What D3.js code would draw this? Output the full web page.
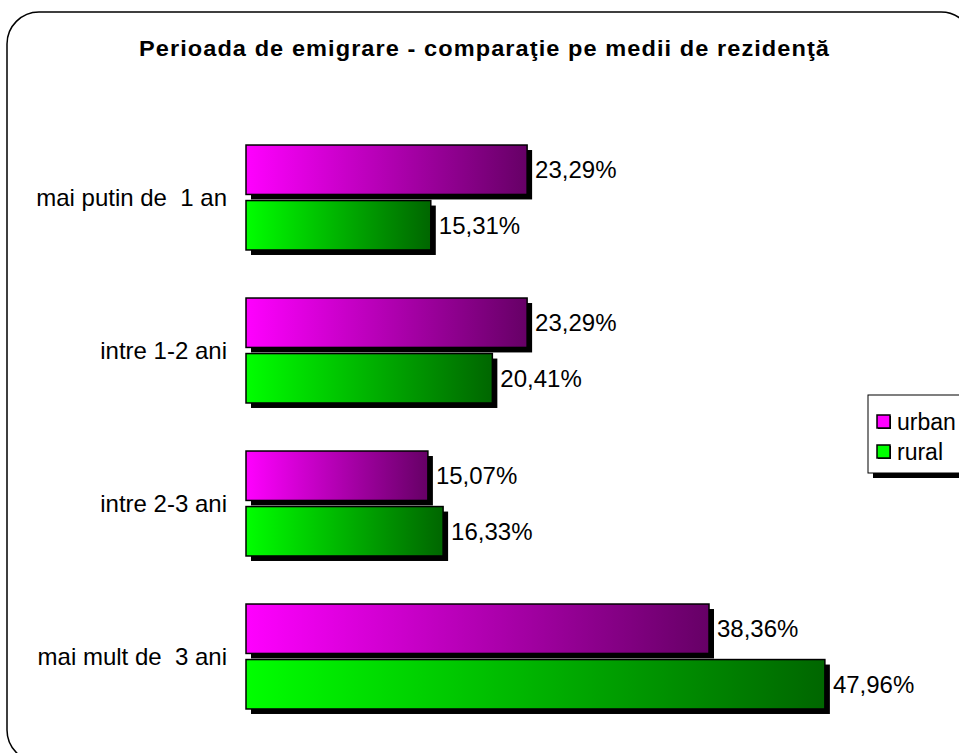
<!DOCTYPE html>
<html>
<head>
<meta charset="utf-8">
<script src="https://cdn.jsdelivr.net/npm/d3@7"></script>
<style>
  html, body { margin: 0; padding: 0; background: #fff; overflow: hidden; }
  svg { display: block; font-family: "Liberation Sans", Arial, sans-serif; }
  text { white-space: pre; }
</style>
</head>
<body>
<svg width="959" height="753"></svg>
<script>
var categories = ['mai putin de  1 an', 'intre 1-2 ani', 'intre 2-3 ani', 'mai mult de  3 ani'];
var seriesNames = ['urban', 'rural'];
var urban = [23.29, 23.29, 15.07, 38.36];
var rural = [15.31, 20.41, 16.33, 47.96];
var title = 'Perioada de emigrare - comparaţie pe medii de rezidenţă';

var colors = {
    urban: ['#ff00ff', '#660066'],
    rural: ['#00ff00', '#006600']
};

var svg = d3.select('svg');
var defs = svg.append('defs');

seriesNames.forEach(function (s) {
    var g = defs.append('linearGradient')
        .attr('id', 'grad-' + s)
        .attr('x1', 0).attr('x2', 1).attr('y1', 0).attr('y2', 0);
    g.append('stop').attr('offset', '0%').attr('stop-color', colors[s][0]);
    g.append('stop').attr('offset', '100%').attr('stop-color', colors[s][1]);
});

// outer rounded frame
svg.append('rect')
    .attr('x', 7).attr('y', 12)
    .attr('width', 966).attr('height', 750)
    .attr('rx', 32).attr('ry', 32)
    .attr('fill', '#fff')
    .attr('stroke', '#000')
    .attr('stroke-width', 1.5);

svg.append('text')
    .attr('x', 139).attr('y', 56)
    .attr('font-size', 22)
    .attr('font-weight', 'bold')
    .attr('letter-spacing', 1)
    .attr('textLength', 691)
    .attr('lengthAdjust', 'spacingAndGlyphs')
    .text(title);

var data = categories.map(function (c, i) {
    return { cat: c, urban: urban[i], rural: rural[i] };
});

var x = d3.scaleLinear().domain([0, 10]).range([246, 246 + 120.7]);
var y = d3.scaleBand().domain(categories).range([121, 733]).paddingInner(0.314).paddingOuter(0.157);
var ySub = d3.scaleBand().domain(seriesNames).range([0, y.bandwidth()]).paddingInner(0.11);

var groups = svg.selectAll('g.cat')
    .data(data)
    .enter().append('g')
    .attr('class', 'cat')
    .attr('transform', function (d) { return 'translate(0,' + y(d.cat) + ')'; });

groups.append('text')
    .attr('x', 227)
    .attr('y', y.bandwidth() / 2)
    .attr('dy', '0.35em')
    .attr('text-anchor', 'end')
    .attr('font-size', 24)
    .text(function (d) { return d.cat; });

seriesNames.forEach(function (s) {
    groups.append('rect')
        .attr('x', x(0) + 5)
        .attr('y', ySub(s) + 5)
        .attr('width', function (d) { return x(d[s]) - x(0); })
        .attr('height', ySub.bandwidth())
        .attr('fill', '#000');
    groups.append('rect')
        .attr('x', x(0))
        .attr('y', ySub(s))
        .attr('width', function (d) { return x(d[s]) - x(0); })
        .attr('height', ySub.bandwidth())
        .attr('fill', 'url(#grad-' + s + ')')
        .attr('stroke', '#000')
        .attr('stroke-width', 1.5);
    groups.append('text')
        .attr('x', function (d) { return x(d[s]) + 8; })
        .attr('y', ySub(s) + ySub.bandwidth() / 2)
        .attr('dy', '0.35em')
        .attr('font-size', 24)
        .text(function (d) { return d3.format('.2f')(d[s]).replace('.', ',') + '%'; });
});

// legend
var lg = svg.append('g').attr('transform', 'translate(868,395)');
lg.append('rect').attr('x', 5).attr('y', 5).attr('width', 100).attr('height', 78).attr('fill', '#000');
lg.append('rect').attr('x', 0).attr('y', 0).attr('width', 100).attr('height', 78)
    .attr('fill', '#fff').attr('stroke', '#000').attr('stroke-width', 1);
seriesNames.forEach(function (s, i) {
    var item = lg.append('g').attr('transform', 'translate(9,' + (20 + i * 30) + ')');
    item.append('rect').attr('x', 1).attr('y', 1).attr('width', 13).attr('height', 13).attr('fill', '#000');
    item.append('rect').attr('width', 13).attr('height', 13)
        .attr('fill', colors[s][0]).attr('stroke', '#000').attr('stroke-width', 1.5);
    item.append('text').attr('x', 20).attr('y', 7).attr('dy', '0.35em')
        .attr('font-size', 23).text(s);
});
</script>
</body>
</html>
